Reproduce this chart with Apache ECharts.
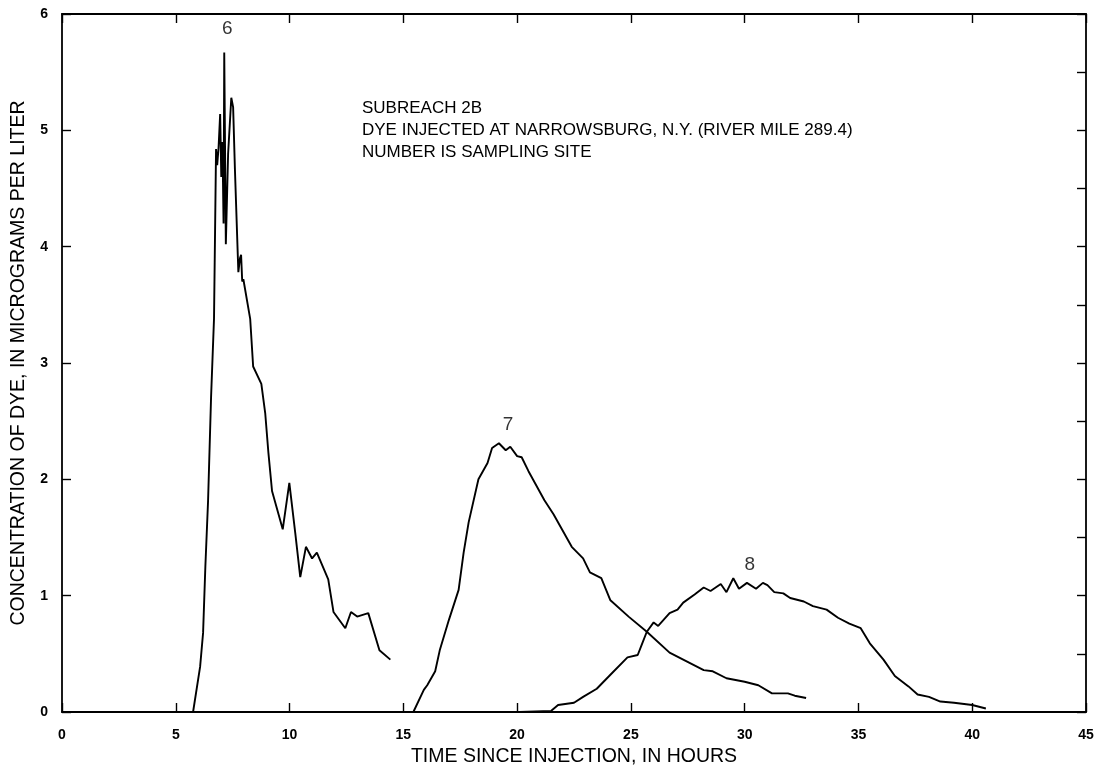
<!DOCTYPE html>
<html>
<head>
<meta charset="utf-8">
<script src="https://cdn.jsdelivr.net/npm/echarts@6/dist/echarts.min.js"></script>
<style>
  html, body { margin: 0; padding: 0; background: #fff; }
  #chart { width: 1099px; height: 773px; }
</style>
</head>
<body>
<div id="chart"></div>
<script>
// Dye concentration time series, hours since injection vs micrograms per liter
const site6 = [
  [5.76, 0], [6.07, 0.39], [6.2, 0.68], [6.3, 1.25], [6.42, 1.82], [6.55, 2.7],
  [6.68, 3.38], [6.77, 4.84], [6.82, 4.7], [6.88, 4.85], [6.95, 5.14],
  [7.0, 4.6], [7.05, 4.9], [7.1, 4.2], [7.13, 5.67], [7.2, 4.02],
  [7.3, 4.8], [7.44, 5.28], [7.52, 5.2], [7.6, 4.66], [7.75, 3.78],
  [7.82, 3.9], [7.87, 3.93], [7.92, 3.7], [7.97, 3.72], [8.27, 3.38],
  [8.4, 2.97], [8.76, 2.82], [8.93, 2.57], [9.07, 2.23], [9.23, 1.9],
  [9.7, 1.57], [9.99, 1.97], [10.25, 1.54], [10.47, 1.16], [10.72, 1.42],
  [10.99, 1.32], [11.2, 1.37], [11.7, 1.14], [11.93, 0.86], [12.45, 0.72],
  [12.7, 0.86], [12.97, 0.82], [13.46, 0.85], [13.95, 0.53], [14.43, 0.45]
];

const site7 = [
  [15.44, 0], [15.9, 0.19], [16.05, 0.23], [16.4, 0.35], [16.6, 0.53],
  [17.0, 0.79], [17.43, 1.05], [17.65, 1.37], [17.87, 1.63], [18.3, 2.0],
  [18.7, 2.14], [18.9, 2.27], [19.2, 2.31], [19.5, 2.25], [19.7, 2.28],
  [20.0, 2.2], [20.2, 2.19], [20.5, 2.07], [21.2, 1.82], [21.6, 1.7],
  [22.4, 1.42], [22.9, 1.32], [23.2, 1.2], [23.7, 1.15], [24.1, 0.96],
  [24.9, 0.82], [25.7, 0.69], [26.7, 0.51], [27.6, 0.42], [28.2, 0.36],
  [28.6, 0.35], [29.2, 0.29], [30.0, 0.26], [30.6, 0.23], [31.2, 0.16],
  [31.9, 0.16], [32.2, 0.14], [32.7, 0.12]
];

const site8 = [
  [20.1, 0], [21.5, 0.01], [21.8, 0.06], [22.5, 0.08], [22.9, 0.13],
  [23.5, 0.2], [24.1, 0.32], [24.85, 0.47], [25.3, 0.49], [25.5, 0.59],
  [25.7, 0.69], [26.0, 0.77], [26.2, 0.74], [26.7, 0.85], [27.05, 0.88],
  [27.3, 0.94], [27.8, 1.01], [28.2, 1.07], [28.5, 1.04], [28.95, 1.1],
  [29.2, 1.03], [29.5, 1.15], [29.75, 1.06], [30.1, 1.11], [30.5, 1.06],
  [30.8, 1.11], [31.0, 1.09], [31.3, 1.03], [31.7, 1.02], [32.0, 0.98],
  [32.6, 0.95], [33.0, 0.91], [33.6, 0.88], [34.1, 0.81], [34.6, 0.76],
  [35.1, 0.72], [35.5, 0.59], [36.1, 0.45], [36.6, 0.31], [37.2, 0.22],
  [37.6, 0.15], [38.1, 0.13], [38.6, 0.09], [39.2, 0.08], [40.0, 0.06],
  [40.6, 0.03]
];

// Sampling-site numbers placed above each curve's peak
const siteLabels = [
  { name: '6', value: [7.26, 5.87] },
  { name: '7', value: [19.6, 2.47] },
  { name: '8', value: [30.22, 1.265] }
];

const noteLines = [
  'SUBREACH 2B',
  'DYE INJECTED AT NARROWSBURG, N.Y. (RIVER MILE 289.4)',
  'NUMBER IS SAMPLING SITE'
];

const xTitle = 'TIME SINCE INJECTION, IN HOURS';
const yTitle = 'CONCENTRATION OF DYE, IN MICROGRAMS PER LITER';

const FONT = '"Liberation Sans", Arial, sans-serif';
const INK = '#000';

const chart = echarts.init(document.getElementById('chart'), null, { renderer: 'canvas' });

const frameLine = { show: true, onZero: false, lineStyle: { color: INK, width: 1.8 } };
const inTicks = (len) => ({ show: true, inside: true, length: len, lineStyle: { color: INK, width: 1.4 } });

const lineSeries = (name, data) => ({
  name, type: 'line', data,
  showSymbol: false, smooth: false,
  lineStyle: { color: INK, width: 1.9 },
  xAxisIndex: 0, yAxisIndex: 0, z: 3
});

chart.setOption({
  animation: false,
  backgroundColor: '#fff',
  grid: { left: 62, top: 14, right: 13, bottom: 61, containLabel: false },
  xAxis: [
    {
      type: 'value', min: 0, max: 45, interval: 5, position: 'bottom',
      axisLine: frameLine, axisTick: inTicks(9), splitLine: { show: false },
      axisLabel: { color: INK, fontFamily: FONT, fontWeight: 'bold', fontSize: 14, margin: 16 },
      name: xTitle, nameLocation: 'middle', nameGap: 32,
      nameTextStyle: { color: INK, fontFamily: FONT, fontSize: 19.5 }
    },
    {
      type: 'value', min: 0, max: 45, interval: 5, position: 'top',
      axisLine: frameLine, axisTick: inTicks(9), splitLine: { show: false },
      axisLabel: { show: false }
    }
  ],
  yAxis: [
    {
      type: 'value', min: 0, max: 6, interval: 1, position: 'left',
      axisLine: frameLine, axisTick: inTicks(9), splitLine: { show: false },
      axisLabel: { color: INK, fontFamily: FONT, fontWeight: 'bold', fontSize: 14, margin: 14 },
      name: yTitle, nameLocation: 'middle', nameGap: 33, nameRotate: 90,
      nameTextStyle: { color: INK, fontFamily: FONT, fontSize: 19.5 }
    },
    {
      type: 'value', min: 0, max: 6, interval: 0.5, position: 'right',
      axisLine: frameLine, axisTick: inTicks(9), splitLine: { show: false },
      axisLabel: { show: false }
    }
  ],
  graphic: [{
    type: 'text', left: 362, top: 97, z: 10,
    style: {
      text: noteLines.join('\n'), fill: INK,
      font: '17px ' + FONT, lineHeight: 22
    }
  }],
  series: [
    lineSeries('6', site6),
    lineSeries('7', site7),
    lineSeries('8', site8),
    {
      type: 'scatter', data: siteLabels, symbolSize: 0,
      xAxisIndex: 0, yAxisIndex: 0, silent: true,
      label: {
        show: true, position: 'inside', formatter: '{b}',
        color: INK, fontFamily: FONT, fontSize: 19
      }
    }
  ]
});
</script>
</body>
</html>
